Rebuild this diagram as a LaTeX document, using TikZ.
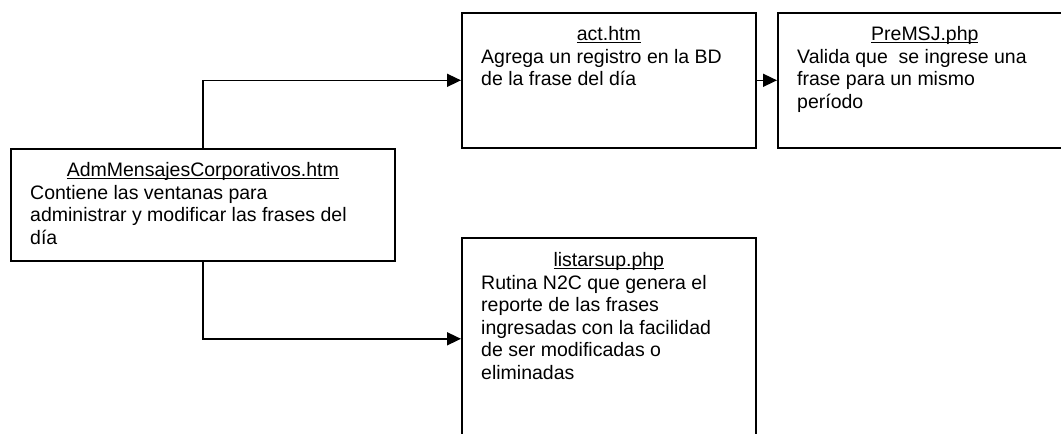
\documentclass[tikz,border=0pt]{standalone}
\usepackage{fontspec}
\setmainfont{Liberation Sans}
\usetikzlibrary{arrows.meta}
\newcommand\myul[1]{\setbox0=\hbox{#1}\rlap{\rule[-3pt]{\wd0}{1.3pt}}\box0}
\tikzset{
  box/.style={draw, line width=1.6pt, inner sep=0pt, anchor=north west},
  ttl/.style={anchor=base, inner sep=0pt, font=\fontsize{19.5}{22.5}\selectfont},
  body/.style={anchor=north west, inner sep=0pt, align=left, font=\fontsize{19.5}{22.5}\selectfont},
  arr/.style={line width=1.6pt, -{Triangle[length=14pt,width=13pt]}}
}
\begin{document}
\begin{tikzpicture}[x=1pt,y=-1pt]
\clip (0,0) rectangle (1061,434);
\fill[white] (0,0) rectangle (1061,434);
% boxes
\node[box, minimum width=384pt, minimum height=112pt] (adm) at (10,148) {};
\node[box, minimum width=294pt, minimum height=135pt] (act) at (461,12) {};
\node[box, minimum width=294pt, minimum height=135pt] (pre) at (777,12) {};
\node[box, minimum width=294pt, minimum height=202pt] (lst) at (461,237) {};
% texts
\node[ttl] (admt) at ([yshift=-28pt]adm.north) {\myul{AdmMensajesCorporativos.htm}};
\node[body] (admb) at ([xshift=20pt,yshift=-35pt]adm.north west) {\rule{0pt}{16pt}Contiene las ventanas para\\administrar y modificar las frases del\\día};
\node[ttl] (actt) at ([yshift=-28pt]act.north) {\myul{act.htm}};
\node[body] (actb) at ([xshift=20pt,yshift=-35pt]act.north west) {\rule{0pt}{16pt}Agrega un registro en la BD\\de la frase del día};
\node[ttl] (pret) at ([yshift=-28pt]pre.north) {\myul{PreMSJ.php}};
\node[body] (preb) at ([xshift=20pt,yshift=-35pt]pre.north west) {\rule{0pt}{16pt}Valida que\ \ se ingrese una\\frase para un mismo\\período};
\node[ttl] (lstt) at ([yshift=-29pt]lst.north) {\myul{listarsup.php}};
\node[body] (lstb) at ([xshift=20pt,yshift=-36pt]lst.north west) {\rule{0pt}{16pt}Rutina N2C que genera el\\reporte de las frases\\ingresadas con la facilidad\\de ser modificadas o\\eliminadas};
% connectors
\draw[arr] (adm.north) |- (act.west);
\draw[arr] (act.east) -- (pre.west);
\draw[arr] (adm.south) |- (lst.west);
\end{tikzpicture}
\end{document}
